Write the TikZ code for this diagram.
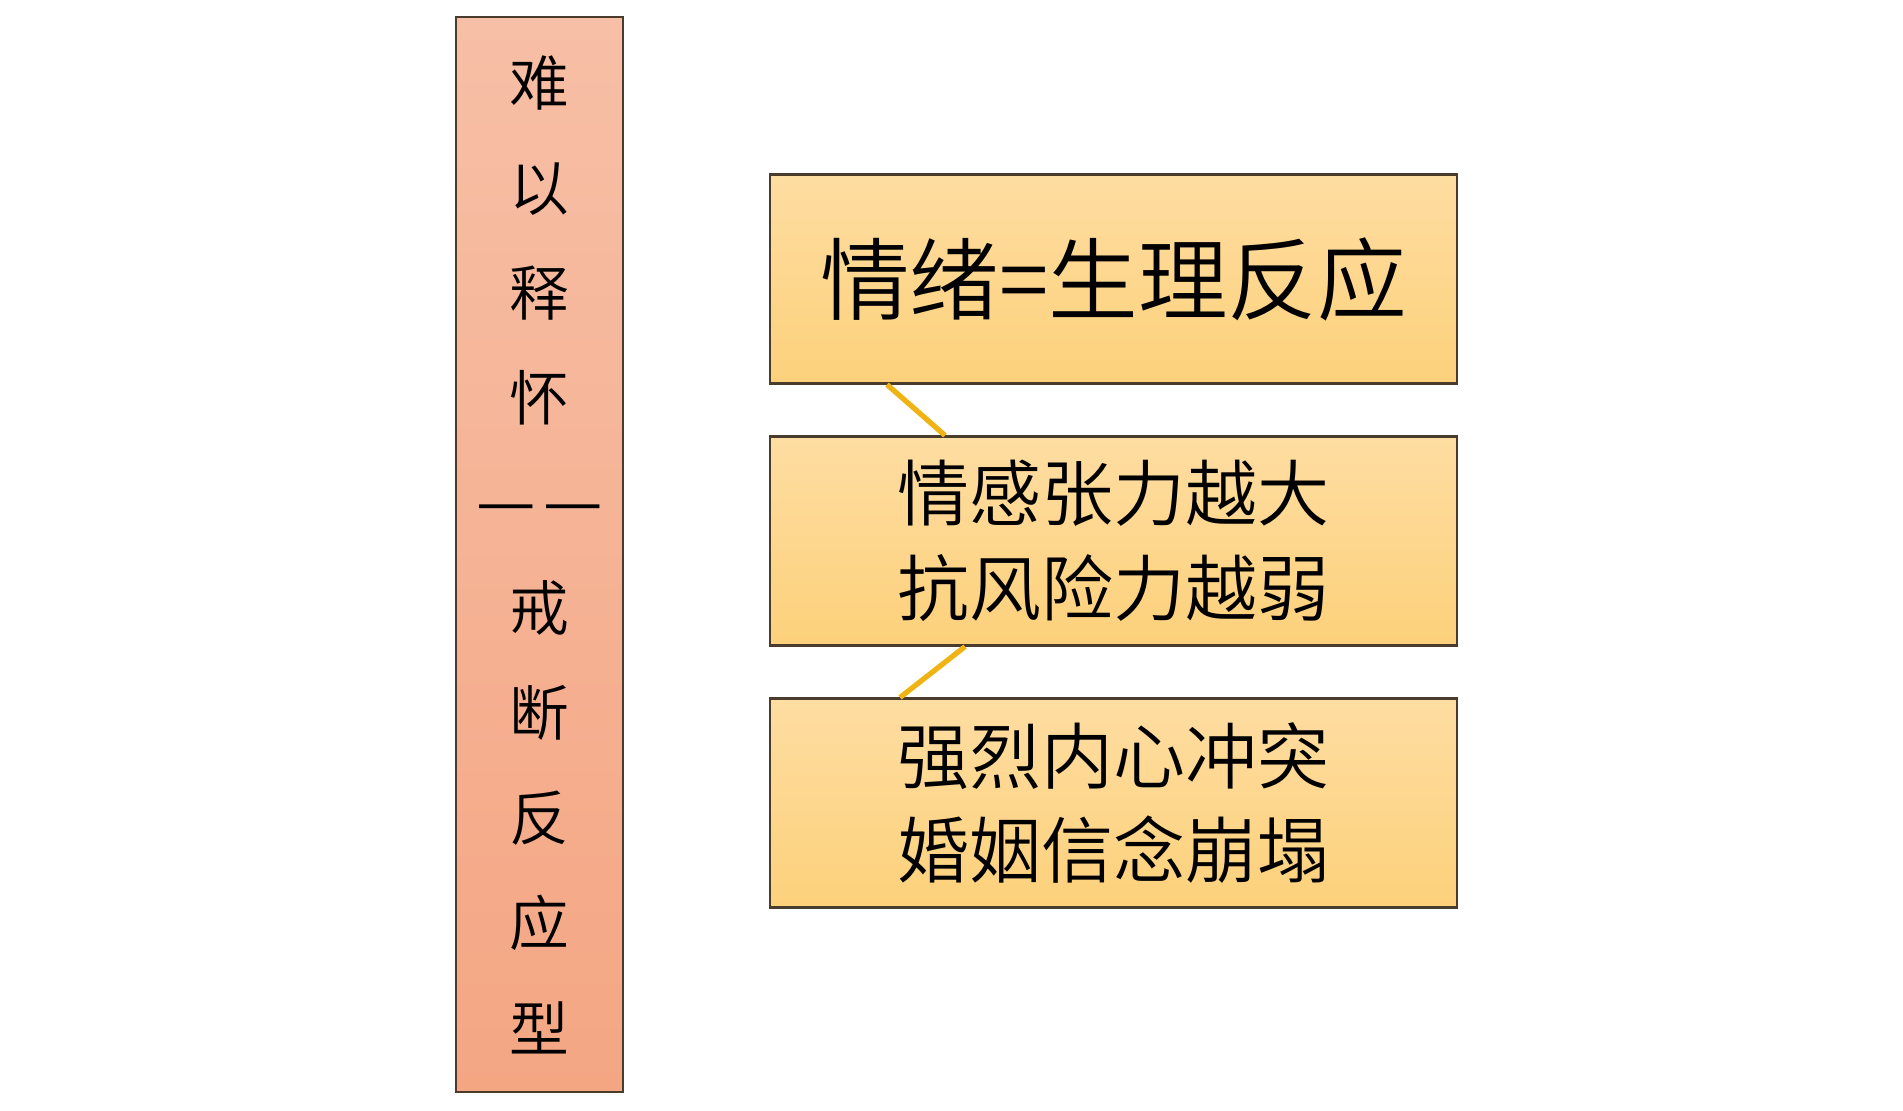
\documentclass[tikz,border=0pt]{standalone}
\usepackage{fontspec}
\setmainfont{Noto Sans CJK SC}[UprightFont={* DemiLight}]
\usetikzlibrary{positioning}

\definecolor{salmontop}{HTML}{F7BFA6}
\definecolor{salmonbot}{HTML}{F4A683}
\definecolor{goldtop}{HTML}{FEDDA2}
\definecolor{goldbot}{HTML}{FDD17B}
\definecolor{boxline}{HTML}{4A3C2C}
\definecolor{linkline}{HTML}{EFB414}

\begin{document}
\begin{tikzpicture}[
                    node distance=2.62cm,
                    line width=0.6pt
                ]
                \tikzstyle{titlebox}=[draw=boxline,top color=salmontop,bottom color=salmonbot,
                    minimum width=1.67cm,minimum height=10.75cm,inner sep=0pt,align=center,
                    font=\fontsize{17pt}{29.9pt}\selectfont]
                \tikzstyle{factbox}=[draw=boxline,top color=goldtop,bottom color=goldbot,
                    minimum width=6.87cm,minimum height=2.09cm,inner sep=0pt,align=center,
                    font=\fontsize{20.5pt}{27pt}\selectfont]
                \tikzstyle{link}=[draw=linkline,line width=1.5pt]

                \useasboundingbox (0,0) rectangle (19.03,-11.10);

                \node[titlebox] (T) at (5.395,-5.545)
                    {难\\以\\释\\怀\\{\fontsize{19pt}{29.9pt}\selectfont —\kern2pt—}\\戒\\断\\反\\应\\型};

                \node[factbox,font=\fontsize{25.5pt}{30pt}\selectfont] (B1) at (11.135,-2.79) {情绪=生理反应};
                \node[factbox] (B2) [below of=B1] {情感张力越大\\抗风险力越弱};
                \node[factbox] (B3) [below of=B2] {强烈内心冲突\\婚姻信念崩塌};

                \coordinate (L1a) at ([xshift=-2.265cm]B1.south);
                \coordinate (L1b) at ([xshift=-1.685cm]B2.north);
                \coordinate (L2a) at ([xshift=-1.485cm]B2.south);
                \coordinate (L2b) at ([xshift=-2.135cm]B3.north);

                \path[link]
                (L1a) -- (L1b)
                (L2a) -- (L2b)
                ;
            \end{tikzpicture}
\end{document}
